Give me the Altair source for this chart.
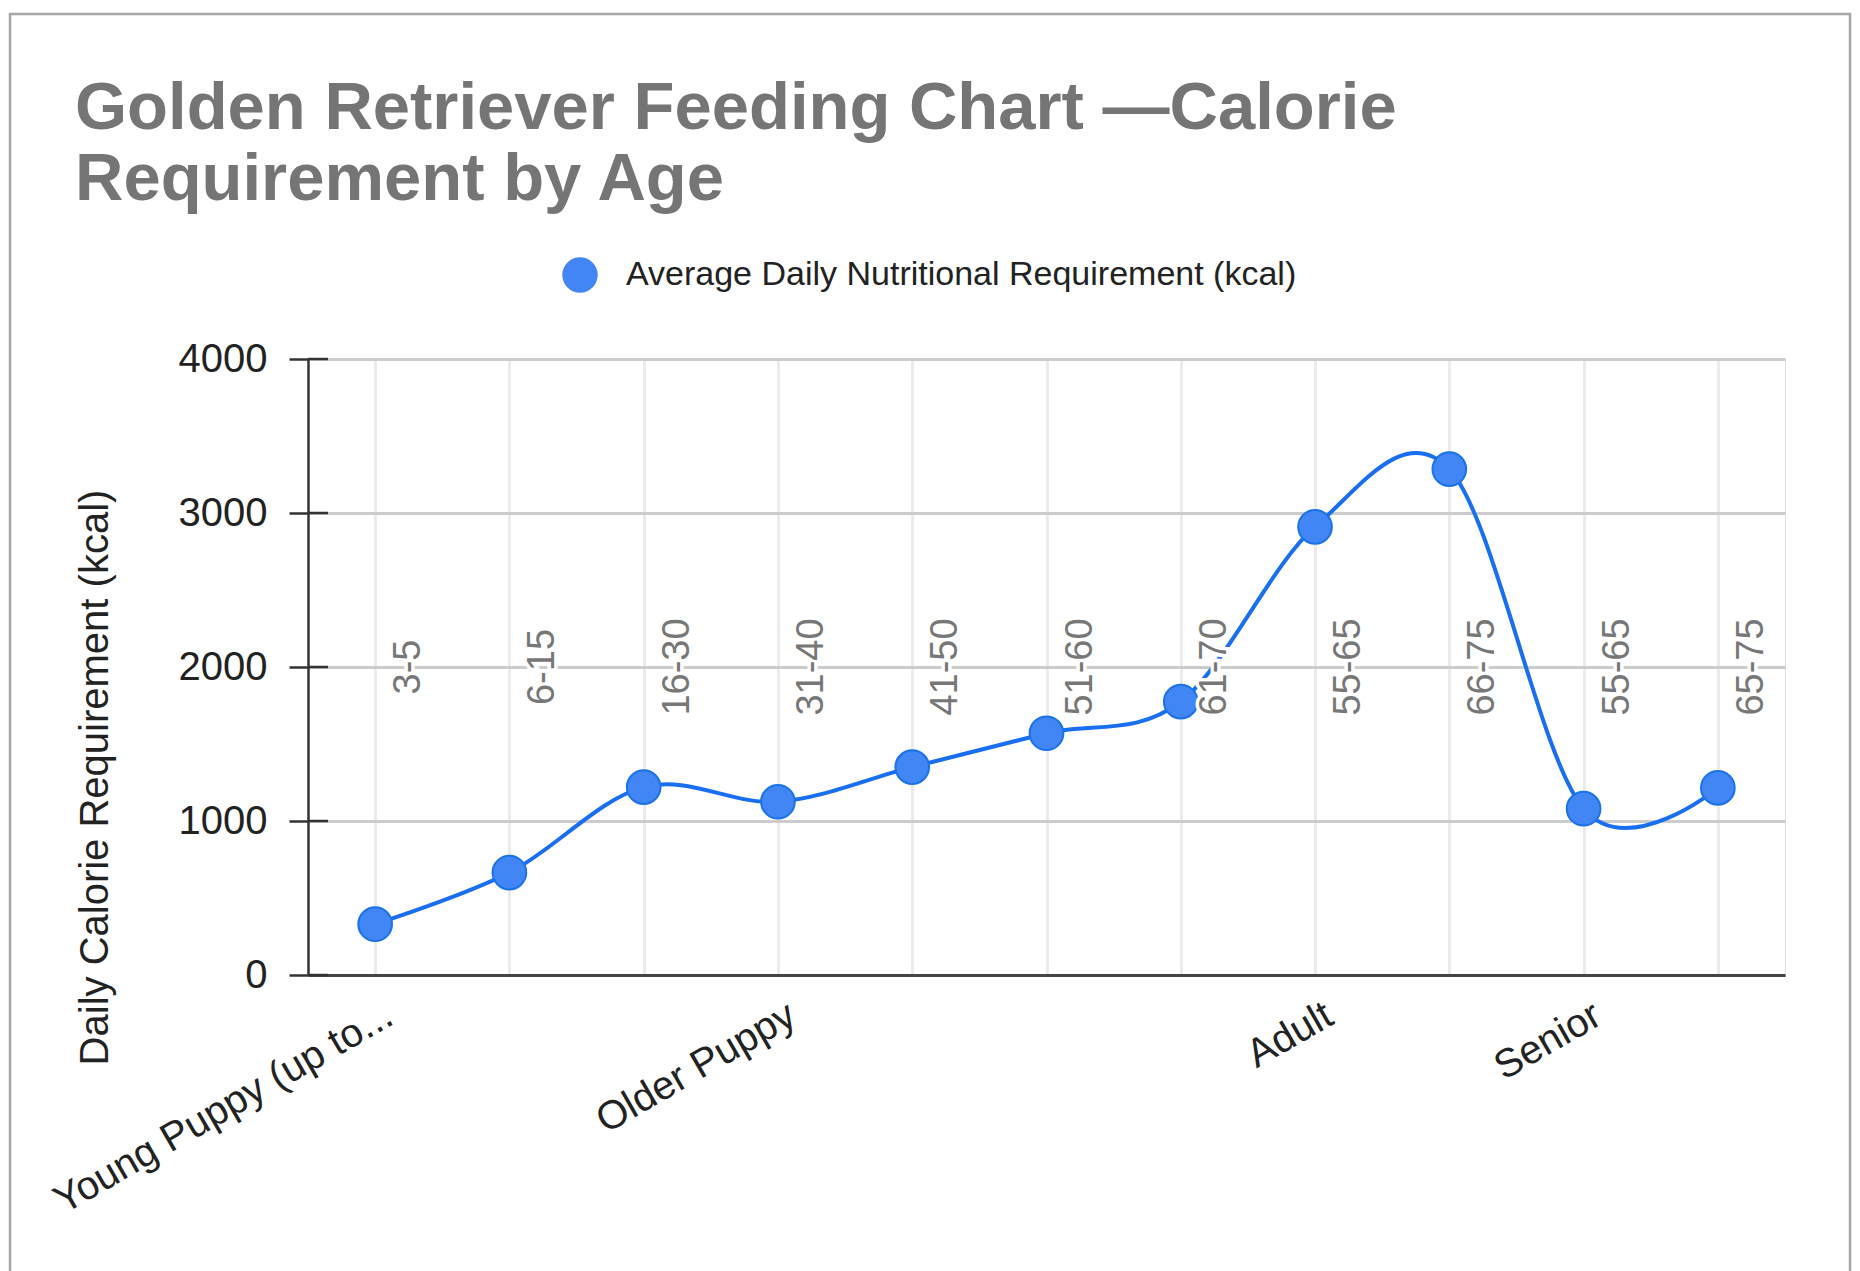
import json
import altair as alt
import pandas as pd

# ---- data ----
weights = ["3-5", "6-15", "16-30", "31-40", "41-50", "51-60", "61-70",
           "55-65", "66-75", "55-65", "65-75"]
stages = ["Young Puppy (up to...", "", "", "Older Puppy", "", "", "",
          "Adult", "", "Senior", ""]
kcal = [330, 665, 1220, 1125, 1350, 1570, 1775, 2910, 3285, 1080, 1215]
y_ticks = [0, 1000, 2000, 3000, 4000]
series_name = "Average Daily Nutritional Requirement (kcal)"
title_lines = ["Golden Retriever Feeding Chart \u2014Calorie", "Requirement by Age"]
y_title = "Daily Calorie Requirement (kcal)"
annotation_level = 2000

FONT = "Liberation Sans"
LINE_BLUE = "#1a6ff0"
POINT_BLUE = "#4285f4"

df = pd.DataFrame({
    "idx": list(range(len(kcal))),
    "weight": weights,
    "stage": stages,
    "kcal": kcal,
    "series": [series_name] * len(kcal),
})
ticks_df = pd.DataFrame({"kcal": y_ticks})
frame_df = pd.DataFrame({"k": [0]})

label_expr = json.dumps(stages) + "[datum.value]"

x_enc = alt.X(
    "idx:O",
    scale=alt.Scale(type="point", padding=0.5),
    axis=alt.Axis(
        title=None,
        labelExpr=label_expr,
        labelAngle=-30,
        labelAlign="right",
        labelBaseline="middle",
        labelFontSize=40,
        labelFont=FONT,
        labelColor="#222222",
        labelOffset=14,
        labelPadding=37,
        labelLimit=1000,
        labelOverlap=False,
        ticks=False,
        tickSize=0,
        domainColor="#444444",
        domainWidth=3,
        grid=True,
        gridColor="#ebebeb",
        gridWidth=3,
    ),
)

y_scale = alt.Scale(domain=[0, 4000], nice=False)
y_axis = alt.Axis(
    title=y_title,
    titleFont=FONT,
    titleFontSize=40,
    titleFontWeight="normal",
    titleColor="#222222",
    titleAngle=270,
    titleAlign="center",
    titleBaseline="middle",
    titleX=-213,
    titleY=418,
    values=y_ticks,
    format="d",
    labelFont=FONT,
    labelFontSize=40,
    labelColor="#222222",
    labelPadding=22,
    tickSize=19,
    tickColor="#333333",
    tickWidth=2.5,
    domainColor="#333333",
    domainWidth=2.5,
    grid=True,
    gridColor="#cccccc",
    gridWidth=3,
)
y_enc = alt.Y("kcal:Q", scale=y_scale, axis=y_axis)

frame = alt.Chart(frame_df).mark_rect(
    fillOpacity=0, stroke="#a6a6a6", strokeWidth=2.5
).encode(
    x=alt.value(-298), x2=alt.value(1542),
    y=alt.value(-345), y2=alt.value(960),
)

line = alt.Chart(df).mark_line(
    interpolate="cardinal", color=LINE_BLUE, strokeWidth=4
).encode(x=x_enc, y=y_enc)

points = alt.Chart(df).mark_point(
    filled=True, size=1134, opacity=1, stroke="#1a73e8", strokeWidth=2
).encode(
    x=x_enc,
    y=y_enc,
    color=alt.Color(
        "series:N",
        scale=alt.Scale(domain=[series_name], range=[POINT_BLUE]),
        legend=alt.Legend(
            orient="none",
            legendX=254,
            legendY=-102,
            title=None,
            padding=0,
            labelFont=FONT,
            labelFontSize=34,
            labelColor="#222222",
            labelOffset=28,
            labelLimit=1000,
            symbolType="circle",
            symbolSize=1257,
            symbolStrokeWidth=0,
            symbolFillColor=POINT_BLUE,
        ),
    ),
)

inner_ticks = alt.Chart(ticks_df).mark_rule(color="#333333", strokeWidth=2.5).encode(
    y=y_enc,
    x=alt.value(0),
    x2=alt.value(20),
)

halo = alt.Chart(df).mark_text(
    angle=270, align="center", baseline="middle", dy=34,
    font=FONT, fontSize=38, stroke="white", strokeWidth=7, fill="white",
).encode(x=x_enc, y=alt.datum(annotation_level, scale=y_scale, axis=y_axis), text="weight:N")

labels = alt.Chart(df).mark_text(
    angle=270, align="center", baseline="middle", dy=34,
    font=FONT, fontSize=38, color="#777777",
).encode(x=x_enc, y=alt.datum(annotation_level, scale=y_scale, axis=y_axis), text="weight:N")

chart = alt.layer(frame, line, points, inner_ticks, halo, labels).properties(
    width=1477,
    height=616,
    autosize=alt.AutoSizeParams(type="none"),
    padding={"left": 300, "top": 351, "right": 67, "bottom": 296},
    title=alt.TitleParams(
        text=title_lines,
        anchor="start",
        frame="group",
        font=FONT,
        fontSize=67,
        fontWeight="bold",
        color="#757575",
        lineHeight=71,
        baseline="top",
        offset=0,
        dx=-233,
        dy=201,
    ),
).configure_view(stroke=None).configure(background="white")

chart.save("out.html", embed_options={"renderer": "svg", "actions": False})
